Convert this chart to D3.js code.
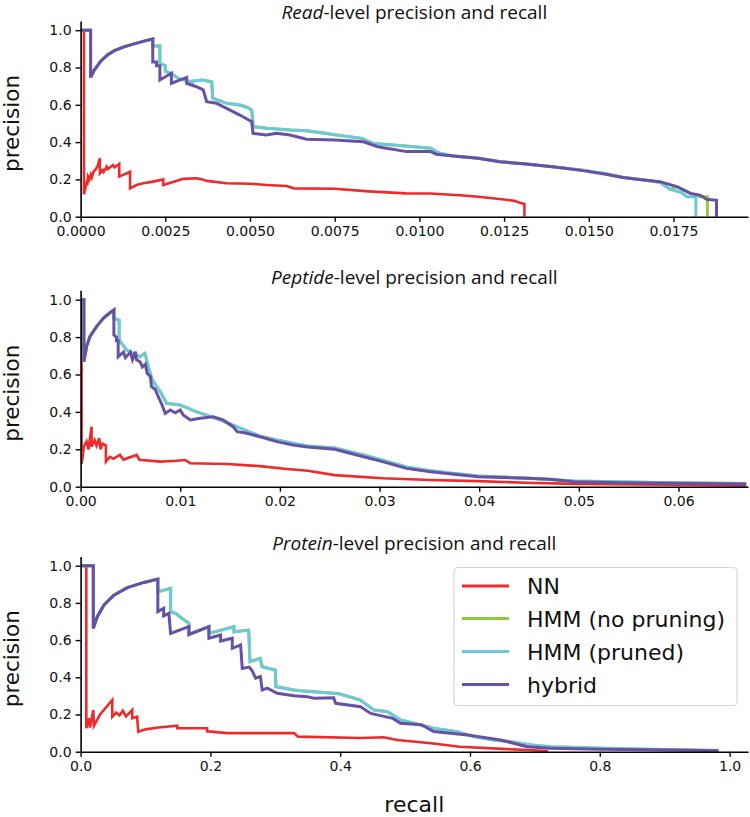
<!DOCTYPE html>
<html><head><meta charset="utf-8">
<script src="https://cdn.jsdelivr.net/npm/d3@7"></script>
<style>body{margin:0;background:#fff} svg{display:block}</style>
</head><body><svg id="c" width="750" height="817"></svg>
<script>
// ---------- data: [recall, precision] ----------
const seriesNames = ["NN", "HMM (no pruning)", "HMM (pruned)", "hybrid"];
const panelTitles = [["Read", "-level precision and recall"], ["Peptide", "-level precision and recall"], ["Protein", "-level precision and recall"]];
const yTicks = [0, 0.2, 0.4, 0.6, 0.8, 1.0];
const readXTicks = [0, 0.0025, 0.005, 0.0075, 0.01, 0.0125, 0.015, 0.0175];
const pepXTicks = [0, 0.01, 0.02, 0.03, 0.04, 0.05, 0.06];
const protXTicks = [0, 0.2, 0.4, 0.6, 0.8, 1.0];

const readNN = [[0.0001,1.0],[0.0001,0.12],[0.00015,0.16],[0.00018,0.18],[0.0002,0.17],[0.00022,0.215],[0.00026,0.2],[0.0003,0.225],[0.00033,0.21],[0.00038,0.24],[0.00045,0.255],[0.0005,0.27],[0.00057,0.313],[0.00057,0.233],[0.00065,0.25],[0.00068,0.24],[0.00077,0.268],[0.0008,0.255],[0.00096,0.277],[0.001,0.265],[0.00114,0.283],[0.00114,0.215],[0.00146,0.241],[0.00146,0.152],[0.00165,0.17],[0.00185,0.179],[0.00214,0.188],[0.00244,0.2],[0.00244,0.17],[0.0028,0.19],[0.00303,0.203],[0.00342,0.206],[0.0036,0.2],[0.00372,0.192],[0.00431,0.179],[0.005,0.177],[0.00549,0.17],[0.00608,0.165],[0.0063,0.152],[0.0075,0.15],[0.0085,0.136],[0.0096,0.125],[0.0103,0.124],[0.0112,0.115],[0.01174,0.107],[0.0125,0.092],[0.0128,0.085],[0.01297,0.075],[0.0131,0.068],[0.0131,0]];
const readPruned = [[0,1.0],[0.000295,1.0],[0.000295,0.747],[0.0004,0.785],[0.0006,0.835],[0.0008,0.868],[0.001,0.89],[0.0013,0.912],[0.0016,0.928],[0.0019,0.943],[0.00213,0.953],[0.00213,0.915],[0.00234,0.915],[0.00234,0.822],[0.0025,0.81],[0.0025,0.78],[0.0027,0.765],[0.0029,0.74],[0.00313,0.73],[0.0033,0.72],[0.0033,0.727],[0.0036,0.733],[0.00387,0.724],[0.0039,0.635],[0.00431,0.608],[0.0047,0.599],[0.0049,0.587],[0.00505,0.572],[0.0051,0.483],[0.0055,0.474],[0.0062,0.465],[0.00667,0.461],[0.0071,0.45],[0.0075,0.44],[0.0083,0.42],[0.00863,0.393],[0.0095,0.38],[0.01033,0.367],[0.0106,0.34],[0.011,0.325],[0.01174,0.313],[0.01238,0.295],[0.01315,0.282],[0.014,0.266],[0.01483,0.249],[0.0155,0.23],[0.016,0.212],[0.0165,0.2],[0.0171,0.185],[0.0174,0.147],[0.01774,0.129],[0.01789,0.107],[0.01816,0.107],[0.01816,0]];
const readNoPrune = readPruned.filter(d => d[0] < 0.0176).concat([[0.0176,0.161],[0.018,0.125],[0.01828,0.112],[0.01828,0.107],[0.0185,0.107],[0.0185,0]]);
const readHybrid = [[0,1.0],[0.000295,1.0],[0.000295,0.747],[0.0004,0.785],[0.0006,0.835],[0.0008,0.868],[0.001,0.89],[0.0013,0.912],[0.0016,0.928],[0.0019,0.943],[0.00213,0.953],[0.00213,0.83],[0.00224,0.83],[0.00224,0.81],[0.00234,0.81],[0.00234,0.733],[0.00268,0.769],[0.00268,0.715],[0.00313,0.747],[0.00313,0.715],[0.00342,0.697],[0.00362,0.68],[0.00372,0.617],[0.00401,0.608],[0.00431,0.581],[0.0047,0.545],[0.00505,0.509],[0.00509,0.447],[0.00549,0.438],[0.00578,0.447],[0.00618,0.438],[0.00667,0.415],[0.0075,0.411],[0.00835,0.402],[0.00877,0.375],[0.00962,0.349],[0.01033,0.349],[0.0105,0.335],[0.011,0.325],[0.01174,0.313],[0.01238,0.295],[0.01315,0.282],[0.014,0.266],[0.01483,0.247],[0.0155,0.228],[0.016,0.21],[0.0165,0.2],[0.0171,0.188],[0.0176,0.161],[0.018,0.125],[0.01828,0.116],[0.01848,0.093],[0.01877,0.088],[0.01877,0]];

const pepNN = [[0.0001,1.0],[0.0001,0.121],[0.0002,0.16],[0.00033,0.214],[0.0006,0.241],[0.0008,0.2],[0.0011,0.321],[0.0011,0.214],[0.0014,0.25],[0.0016,0.22],[0.00187,0.259],[0.002,0.2],[0.0022,0.23],[0.00254,0.22],[0.00254,0.134],[0.00294,0.16],[0.0033,0.15],[0.00394,0.17],[0.0043,0.145],[0.00562,0.17],[0.0059,0.144],[0.008,0.134],[0.0096,0.139],[0.0105,0.143],[0.011,0.125],[0.0147,0.121],[0.018,0.11],[0.0207,0.095],[0.0228,0.085],[0.0255,0.062],[0.0303,0.045],[0.0351,0.036],[0.0399,0.03],[0.0447,0.021],[0.0495,0.015],[0.0591,0.011],[0.0668,0.005]];
const pepPruned = [[0,1.0],[0.00033,1.0],[0.00033,0.668],[0.0006,0.749],[0.00093,0.802],[0.0016,0.856],[0.00227,0.9],[0.00294,0.93],[0.00334,0.945],[0.00334,0.9],[0.00387,0.89],[0.00387,0.784],[0.00462,0.73],[0.00595,0.695],[0.00645,0.713],[0.00689,0.624],[0.0072,0.57],[0.008,0.508],[0.00863,0.446],[0.00997,0.437],[0.0116,0.401],[0.014,0.357],[0.0165,0.303],[0.018,0.27],[0.0197,0.25],[0.0213,0.232],[0.0228,0.218],[0.0255,0.207],[0.0284,0.17],[0.0303,0.142],[0.0327,0.105],[0.0351,0.085],[0.0375,0.07],[0.0399,0.057],[0.0447,0.047],[0.0495,0.031],[0.0591,0.021],[0.0668,0.017]];
const pepNoPrune = pepPruned;
const pepHybrid = [[0,1.0],[0.00033,1.0],[0.00033,0.668],[0.0006,0.749],[0.00093,0.802],[0.0016,0.856],[0.00227,0.9],[0.00294,0.93],[0.00334,0.945],[0.00334,0.811],[0.0036,0.8],[0.0036,0.78],[0.00377,0.78],[0.00377,0.695],[0.0043,0.72],[0.0045,0.69],[0.005,0.72],[0.0052,0.68],[0.0055,0.722],[0.0056,0.68],[0.006,0.665],[0.0062,0.64],[0.0065,0.655],[0.00668,0.606],[0.007,0.59],[0.00712,0.535],[0.0075,0.52],[0.00779,0.481],[0.0081,0.446],[0.0085,0.392],[0.009,0.41],[0.0095,0.395],[0.01,0.41],[0.0103,0.383],[0.011,0.357],[0.012,0.366],[0.0133,0.374],[0.0143,0.357],[0.0153,0.321],[0.0157,0.294],[0.0167,0.286],[0.018,0.267],[0.0197,0.241],[0.0213,0.223],[0.0228,0.212],[0.0255,0.2],[0.0284,0.16],[0.0303,0.134],[0.0327,0.098],[0.0351,0.08],[0.0375,0.066],[0.0399,0.053],[0.0447,0.045],[0.0471,0.04],[0.0495,0.027],[0.0543,0.021],[0.0591,0.018],[0.0668,0.015]];

const protNN = [[0.0088,1.0],[0.0088,0.126],[0.0128,0.18],[0.0145,0.13],[0.0196,0.224],[0.0205,0.14],[0.03,0.2],[0.0488,0.278],[0.0488,0.188],[0.055,0.21],[0.06,0.195],[0.065,0.22],[0.07,0.19],[0.0796,0.224],[0.0796,0.18],[0.087,0.188],[0.0889,0.107],[0.1,0.12],[0.12,0.13],[0.149,0.14],[0.149,0.126],[0.195,0.126],[0.195,0.11],[0.226,0.1],[0.329,0.1],[0.335,0.081],[0.431,0.074],[0.467,0.078],[0.488,0.063],[0.54,0.045],[0.584,0.027],[0.65,0.015],[0.688,0.009],[0.72,0.003]];
const protPruned = [[0.001,1.0],[0.0196,1.0],[0.0196,0.663],[0.0257,0.726],[0.036,0.789],[0.0513,0.842],[0.072,0.882],[0.0976,0.91],[0.119,0.928],[0.119,0.86],[0.1387,0.878],[0.1387,0.753],[0.146,0.744],[0.155,0.72],[0.167,0.69],[0.1669,0.63],[0.1977,0.672],[0.1977,0.636],[0.2363,0.672],[0.2363,0.645],[0.259,0.654],[0.261,0.484],[0.277,0.502],[0.2796,0.457],[0.3,0.439],[0.301,0.349],[0.3287,0.332],[0.339,0.328],[0.39,0.314],[0.4,0.31],[0.431,0.278],[0.452,0.224],[0.473,0.215],[0.493,0.17],[0.544,0.126],[0.58,0.108],[0.606,0.081],[0.637,0.063],[0.663,0.054],[0.694,0.036],[0.724,0.027],[0.801,0.018],[0.909,0.01],[0.983,0.006]];
const protNoPrune = protPruned;
const protHybrid = [[0.001,1.0],[0.0196,1.0],[0.0196,0.663],[0.0257,0.726],[0.036,0.789],[0.0513,0.842],[0.072,0.882],[0.0976,0.91],[0.119,0.928],[0.119,0.753],[0.128,0.771],[0.128,0.73],[0.136,0.744],[0.1387,0.636],[0.1669,0.672],[0.1669,0.63],[0.1977,0.672],[0.1977,0.61],[0.2157,0.627],[0.2157,0.595],[0.2337,0.61],[0.2337,0.556],[0.2465,0.574],[0.2491,0.448],[0.26,0.455],[0.2646,0.434],[0.2696,0.395],[0.277,0.404],[0.2798,0.332],[0.2876,0.342],[0.303,0.314],[0.3287,0.301],[0.349,0.296],[0.3595,0.287],[0.39,0.29],[0.393,0.26],[0.4314,0.242],[0.447,0.206],[0.481,0.179],[0.493,0.153],[0.525,0.145],[0.544,0.108],[0.596,0.09],[0.614,0.081],[0.647,0.063],[0.688,0.027],[0.724,0.018],[0.801,0.013],[0.909,0.009],[0.983,0.005]];

const colors = ["#ee2b2b", "#93c83e", "#6ccad6", "#6751a6"];

// ---------- layout ----------
const X0 = 80.6, X1 = 748;
const panels = [
  {title: panelTitles[0], titleY: 18.5, yBottom: 216.7, unit: 186.5, xPerTick: 84.7, tickStep: 0.0025, xTicks: readXTicks, fmt: ".4f", data: [readNN, readNoPrune, readPruned, readHybrid]},
  {title: panelTitles[1], titleY: 284, yBottom: 486.7, unit: 187, xPerTick: 99.65, tickStep: 0.01, xTicks: pepXTicks, fmt: ".2f", data: [pepNN, pepNoPrune, pepPruned, pepHybrid]},
  {title: panelTitles[2], titleY: 550, yBottom: 751.7, unit: 186, xPerTick: 129.8, tickStep: 0.2, xTicks: protXTicks, fmt: ".1f", data: [protNN, protNoPrune, protPruned, protHybrid], legend: true}
];

const svg = d3.select("#c");
svg.append("rect").attr("width", 750).attr("height", 817).attr("fill", "#fff");

panels.forEach((p, i) => {
  const xmax = (X1 - X0) / p.xPerTick * p.tickStep;
  const x = d3.scaleLinear().domain([0, xmax]).range([X0, X1]);
  const y = d3.scaleLinear().domain([0, 1.05]).range([p.yBottom, p.yBottom - 1.05 * p.unit]);
  const g = svg.append("g");

  const clipId = "clip" + i;
  svg.append("clipPath").attr("id", clipId).append("rect")
    .attr("x", X0).attr("y", y(1.05)).attr("width", X1 - X0).attr("height", y(0) - y(1.05) + 2);

  const line = d3.line().x(d => x(d[0])).y(d => y(d[1]));
  const lg = g.append("g").attr("clip-path", `url(#${clipId})`);
  p.data.forEach((s, k) => {
    lg.append("path").datum(s).attr("d", line)
      .attr("fill", "none").attr("stroke", colors[k])
      .attr("stroke-width", k === 0 ? 2.6 : 3).attr("stroke-linejoin", "miter");
  });

  const xAxis = g.append("g").attr("transform", `translate(0,${y(0)})`)
    .call(d3.axisBottom(x).tickValues(p.xTicks).tickFormat(d3.format(p.fmt)).tickSize(5).tickSizeOuter(0).tickPadding(4));
  const yAxis = g.append("g").attr("transform", `translate(${X0},0)`)
    .call(d3.axisLeft(y).tickValues(yTicks).tickFormat(d3.format(".1f")).tickSize(5).tickSizeOuter(0).tickPadding(4));
  [xAxis, yAxis].forEach(a => {
    a.select(".domain").attr("stroke", "#000").attr("stroke-width", 1.6);
    a.selectAll(".tick line").attr("stroke", "#000").attr("stroke-width", 1.4);
    a.selectAll(".tick text").attr("fill", "#111").style("font-family", "DejaVu Sans").style("font-size", "14px");
  });

  const t = g.append("text").attr("x", (X0 + X1) / 2).attr("y", p.titleY)
    .attr("text-anchor", "middle").style("font-family", "Open Sans").style("font-size", "19px").attr("fill", "#111");
  t.append("tspan").style("font-style", "italic").text(p.title[0]);
  t.append("tspan").text(p.title[1]);

  g.append("text").attr("transform", `translate(19,${(y(0) + y(1.0)) / 2}) rotate(-90)`)
    .attr("text-anchor", "middle").style("font-family", "DejaVu Sans").style("font-size", "21.5px").attr("fill", "#111")
    .text("precision");

  if (p.legend) {
    const L = g.append("g");
    L.append("rect").attr("x", 454).attr("y", 567.5).attr("width", 283).attr("height", 138).attr("rx", 4)
      .attr("fill", "#fff").attr("fill-opacity", 0.85).attr("stroke", "#d6d6d6").attr("stroke-width", 1.2);
    const rows = [586, 618.5, 651.5, 684.5];
    seriesNames.forEach((n, k) => {
      L.append("line").attr("x1", 462).attr("x2", 509).attr("y1", rows[k]).attr("y2", rows[k])
        .attr("stroke", colors[k]).attr("stroke-width", 3);
      L.append("text").attr("x", 527).attr("y", rows[k] + 8)
        .style("font-family", "DejaVu Sans").style("font-size", "22px").attr("fill", "#111").text(n);
    });
  }
});

svg.append("text").attr("x", (X0 + X1) / 2).attr("y", 812).attr("text-anchor", "middle")
  .style("font-family", "DejaVu Sans").style("font-size", "22px").attr("fill", "#111").text("recall");
</script>
</body></html>
